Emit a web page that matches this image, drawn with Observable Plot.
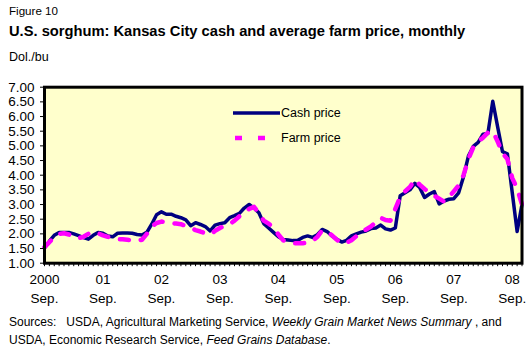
<!DOCTYPE html>
<html><head><meta charset="utf-8">
<script src="https://cdn.jsdelivr.net/npm/d3@7"></script>
<script src="https://cdn.jsdelivr.net/npm/@observablehq/plot@0.6"></script>
<style>
body{margin:0;background:#fff;font-family:"Liberation Sans",Arial,sans-serif;}
#wrap{position:relative;width:530px;height:352px;overflow:hidden;background:#fff;}
.t{position:absolute;left:9px;white-space:pre;color:#000;}
</style></head><body><div id="wrap">
<div class="t" style="top:2px;font-size:11.6px;line-height:18px">Figure 10</div>
<div class="t" style="top:22px;font-size:14.7px;font-weight:bold;line-height:18px">U.S. sorghum: Kansas City cash and average farm price, monthly</div>
<div class="t" style="top:48px;font-size:12.5px;line-height:18px">Dol./bu</div>
<div id="chart" style="position:absolute;left:0;top:70px"></div>
<div class="t" style="top:313px;font-size:12px;line-height:18px">Sources:   USDA, Agricultural Marketing Service, <i>Weekly Grain Market News Summary</i> , and
USDA, Economic Research Service, <i>Feed Grains Database</i>.</div>
</div>
<script>
// Monthly, Sep. 2000 through Nov. 2008 (index 0 = Sep. 2000)
const cashPrice = [
1.52,1.75,1.95,2.05,2.05,2.05,2.00,1.94,1.87,1.82,1.95,2.05,
2.02,1.93,1.90,2.02,2.03,2.03,2.02,1.98,1.96,2.05,2.33,2.65,
2.75,2.67,2.67,2.60,2.55,2.48,2.28,2.38,2.32,2.25,2.10,2.30,
2.35,2.38,2.55,2.62,2.70,2.88,3.00,2.88,2.72,2.35,2.20,2.05,
1.90,1.81,1.79,1.77,1.78,1.88,1.93,1.88,1.97,2.15,2.08,1.93,
1.82,1.72,1.78,1.93,2.00,2.06,2.10,2.18,2.20,2.30,2.17,2.13,
2.20,3.30,3.40,3.50,3.72,3.58,3.24,3.36,3.44,3.02,3.12,3.18,
3.20,3.40,3.95,4.65,4.98,5.12,5.40,5.42,6.52,5.65,4.80,4.73,
3.40,2.08,3.01];
const farmPrice = [
1.55,1.72,1.88,2.00,2.02,1.98,1.88,1.85,1.90,2.00,2.06,2.02,
1.95,1.90,1.86,1.82,1.82,1.80,1.78,1.76,1.80,2.00,2.25,2.37,
2.42,2.40,2.37,2.35,2.33,2.27,2.20,2.13,2.08,2.02,1.98,2.10,
2.20,2.28,2.33,2.45,2.60,2.72,2.85,2.92,2.70,2.45,2.35,2.20,
1.98,1.78,1.72,1.68,1.68,1.68,1.70,1.75,1.90,2.12,2.08,1.95,
1.80,1.68,1.70,1.78,1.92,2.05,2.15,2.25,2.40,2.55,2.47,2.45,
2.85,3.25,3.45,3.60,3.85,3.68,3.53,3.41,3.30,3.20,3.10,3.25,
3.45,3.65,4.00,4.55,4.95,5.15,5.28,5.45,5.50,5.15,4.75,4.55,
3.90,3.55,3.00];
const xTickLabels = ["2000","01","02","03","04","05","06","07","08"];
const xTickSub = "Sep.";
const yTicks = [1,1.5,2,2.5,3,3.5,4,4.5,5,5.5,6,6.5,7];
const seriesNames = ["Cash price","Farm price"];

const rows = cashPrice.map((v,i)=>({m:i, cash:v, farm:farmPrice[i]}));
const yearTicks = xTickLabels.map((_,i)=>i*12);
const monthTicks = d3.range(0, cashPrice.length);

const cashColor = "#000080", farmColor = "#ff00ff";

const plot = Plot.plot({
  width: 530, height: 245,
  marginLeft: 44, marginRight: 8.5, marginTop: 16.7, marginBottom: 52.3,
  style: {fontFamily: "'Liberation Sans', Arial, sans-serif", fontSize: "13.5px", background: "transparent", color: "#000"},
  x: {domain: [0, cashPrice.length - 1]},
  y: {domain: [1, 7]},
  marks: [
    Plot.frame({fill: "#ffffcc"}),
    Plot.line(rows, {x: "m", y: "cash", stroke: cashColor, strokeWidth: 3.5, strokeLinejoin: "round"}),
    Plot.line(rows, {x: "m", y: "farm", stroke: farmColor, strokeWidth: 4.5, strokeDasharray: "9,12"}),
    Plot.frame({stroke: "#000", strokeWidth: 3}),
    Plot.axisY({ticks: yTicks, tickFormat: d => d.toFixed(2), tickSize: 4, tickPadding: 6, label: null, fontSize: 13.5}),
    Plot.axisX({ticks: monthTicks, tickSize: 3.5, tickFormat: () => "", label: null}),
    Plot.text(yearTicks, {x: d => d, text: (d,i) => xTickLabels[i], frameAnchor: "bottom", dy: 20.5, fontSize: 13.5}),
    Plot.text(yearTicks, {x: d => d, text: () => xTickSub, frameAnchor: "bottom", dy: 40, fontSize: 13.5})
  ]
});
document.getElementById("chart").appendChild(plot);

// legend
const svg = d3.select(plot);
const lg = svg.append("g").attr("font-size", 12.5).attr("text-anchor", "start")
  .attr("font-family", "'Liberation Sans', Arial, sans-serif");
lg.append("line").attr("x1", 233).attr("x2", 280).attr("y1", 43).attr("y2", 43)
  .attr("stroke", cashColor).attr("stroke-width", 3.5);
lg.append("text").attr("x", 281).attr("y", 43).attr("dy", "0.35em").attr("text-anchor", "start").text(seriesNames[0]);
lg.append("line").attr("x1", 235).attr("x2", 268).attr("y1", 68).attr("y2", 68)
  .attr("stroke", farmColor).attr("stroke-width", 4.5).attr("stroke-dasharray", "7,16");
lg.append("text").attr("x", 281).attr("y", 68).attr("dy", "0.35em").attr("text-anchor", "start").text(seriesNames[1]);
</script>
</body></html>
